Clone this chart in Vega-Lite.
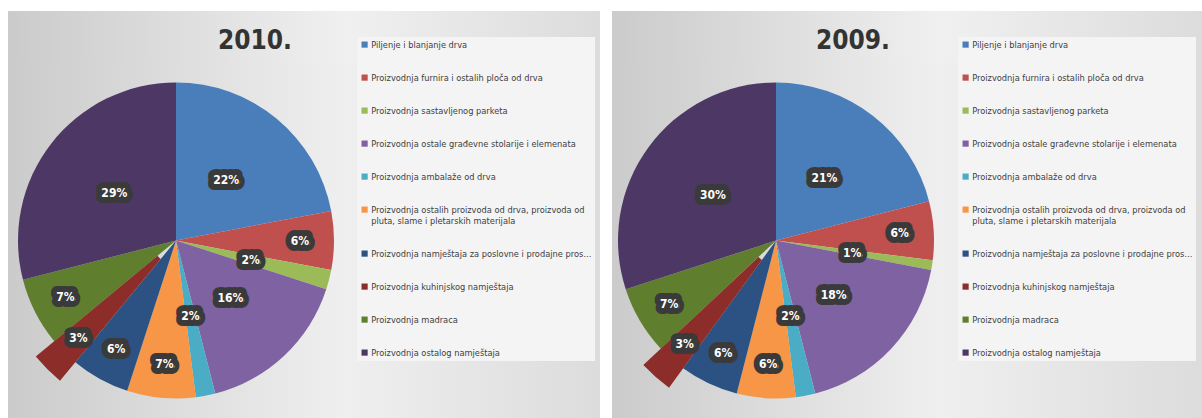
{
  "$schema": "https://vega.github.io/schema/vega-lite/v6.json",
  "background": "#ffffff",
  "padding": {"left": 8, "top": 11, "right": 0, "bottom": 0},
  "spacing": 12,
  "resolve": {"scale": {"color": "independent", "theta": "independent", "radius": "independent"}, "legend": {"color": "independent"}},
  "config": {"view": {"stroke": null}},
  "datasets": {
    "d2010": [
      {"cat": "Piljenje i blanjanje drva", "share": 0.22, "rank": 1},
      {"cat": "Proizvodnja furnira i ostalih ploča od drva", "share": 0.06, "rank": 2},
      {"cat": "Proizvodnja sastavljenog parketa", "share": 0.02, "rank": 3},
      {"cat": "Proizvodnja ostale građevne stolarije i elemenata", "share": 0.16, "rank": 4},
      {"cat": "Proizvodnja ambalaže od drva", "share": 0.02, "rank": 5},
      {"cat": "Proizvodnja ostalih proizvoda od drva, proizvoda od pluta, slame i pletarskih materijala", "share": 0.07, "rank": 6},
      {"cat": "Proizvodnja namještaja za poslovne i prodajne prostore", "share": 0.06, "rank": 7},
      {"cat": "Proizvodnja kuhinjskog namještaja", "share": 0.03, "rank": 8},
      {"cat": "Proizvodnja madraca", "share": 0.07, "rank": 9},
      {"cat": "Proizvodnja ostalog namještaja", "share": 0.29, "rank": 10}
    ],
    "d2009": [
      {"cat": "Piljenje i blanjanje drva", "share": 0.21, "rank": 1},
      {"cat": "Proizvodnja furnira i ostalih ploča od drva", "share": 0.06, "rank": 2},
      {"cat": "Proizvodnja sastavljenog parketa", "share": 0.01, "rank": 3},
      {"cat": "Proizvodnja ostale građevne stolarije i elemenata", "share": 0.18, "rank": 4},
      {"cat": "Proizvodnja ambalaže od drva", "share": 0.02, "rank": 5},
      {"cat": "Proizvodnja ostalih proizvoda od drva, proizvoda od pluta, slame i pletarskih materijala", "share": 0.06, "rank": 6},
      {"cat": "Proizvodnja namještaja za poslovne i prodajne prostore", "share": 0.06, "rank": 7},
      {"cat": "Proizvodnja kuhinjskog namještaja", "share": 0.03, "rank": 8},
      {"cat": "Proizvodnja madraca", "share": 0.07, "rank": 9},
      {"cat": "Proizvodnja ostalog namještaja", "share": 0.30, "rank": 10}
    ],
    "t2010": [{"year": "2010."}],
    "t2009": [{"year": "2009."}]
  },
  "hconcat": [
    {
      "spacing": 0,
      "bounds": "flush",
      "resolve": {"scale": {"color": "independent", "theta": "independent", "radius": "independent"}, "legend": {"color": "independent"}},
      "vconcat": [
        {
          "width": 592,
          "height": 52,
          "view": {"fill": {"gradient": "linear", "x1": 0, "y1": 0, "x2": 1, "y2": 0, "stops": [{"offset": 0, "color": "#cbcbcb"}, {"offset": 0.57, "color": "#f0f0f0"}, {"offset": 1, "color": "#dcdcdc"}]}},
          "data": {"name": "t2010"},
          "mark": {"type": "text", "font": "Liberation Sans Narrow, DejaVu Sans Condensed, sans-serif", "fontSize": 26, "fontWeight": "bold", "color": "#333333", "dx": -49, "dy": 4},
          "encoding": {"text": {"field": "year", "type": "nominal"}}
        },
        {
          "spacing": 0,
          "bounds": "flush",
          "resolve": {"scale": {"color": "independent", "theta": "independent", "radius": "independent"}, "legend": {"color": "independent"}},
          "hconcat": [
            {
              "width": 336,
              "height": 355,
              "view": {"fill": {"gradient": "linear", "x1": 0, "y1": 0, "x2": 1, "y2": 0, "stops": [{"offset": 0, "color": "#cbcbcb"}, {"offset": 1, "color": "#efefef"}]}},
              "data": {"name": "d2010"},
              "encoding": {
                "theta": {"field": "share", "type": "quantitative", "stack": true},
                "order": {"field": "rank", "type": "quantitative"}
              },
              "layer": [
                {
                  "mark": {"type": "arc", "outerRadius": 158},
                  "encoding": {
                    "color": {"field": "cat", "type": "nominal", "legend": null, "scale": {"domain": ["Piljenje i blanjanje drva", "Proizvodnja furnira i ostalih ploča od drva", "Proizvodnja sastavljenog parketa", "Proizvodnja ostale građevne stolarije i elemenata", "Proizvodnja ambalaže od drva", "Proizvodnja ostalih proizvoda od drva, proizvoda od pluta, slame i pletarskih materijala", "Proizvodnja namještaja za poslovne i prodajne prostore", "Proizvodnja kuhinjskog namještaja", "Proizvodnja madraca", "Proizvodnja ostalog namještaja"], "range": ["#4a7ebb", "#c0504d", "#9bbb59", "#7f62a1", "#4bacc6", "#f79646", "#2c5283", "#8c2d2a", "#5f7f2e", "#4d3865"]}},
                    "opacity": {"condition": {"test": "datum.cat === 'Proizvodnja kuhinjskog namještaja'", "value": 0}, "value": 1}
                  }
                },
                {
                  "mark": {"type": "arc", "outerRadius": 182, "innerRadius": 24, "clip": true},
                  "encoding": {
                    "color": {"field": "cat", "type": "nominal", "legend": null, "scale": {"domain": ["Piljenje i blanjanje drva", "Proizvodnja furnira i ostalih ploča od drva", "Proizvodnja sastavljenog parketa", "Proizvodnja ostale građevne stolarije i elemenata", "Proizvodnja ambalaže od drva", "Proizvodnja ostalih proizvoda od drva, proizvoda od pluta, slame i pletarskih materijala", "Proizvodnja namještaja za poslovne i prodajne prostore", "Proizvodnja kuhinjskog namještaja", "Proizvodnja madraca", "Proizvodnja ostalog namještaja"], "range": ["#4a7ebb", "#c0504d", "#9bbb59", "#7f62a1", "#4bacc6", "#f79646", "#2c5283", "#8c2d2a", "#5f7f2e", "#4d3865"]}},
                    "opacity": {"condition": {"test": "datum.cat === 'Proizvodnja kuhinjskog namještaja'", "value": 1}, "value": 0}
                  }
                },
                {
                  "mark": {"type": "text", "font": "Liberation Sans Narrow, DejaVu Sans Condensed, sans-serif", "fontSize": 12, "fontWeight": "bold", "fill": "#3a3a3a", "stroke": "#3a3a3a", "strokeWidth": 12, "strokeJoin": "round"},
                  "encoding": {
                    "detail": {"field": "cat", "type": "nominal"},
                    "radius": {"field": "share", "type": "quantitative", "scale": {"type": "linear", "domain": [0.01, 0.025, 0.03, 0.035, 0.095, 0.1, 0.3], "range": [77, 77, 138, 124, 124, 80, 78], "zero": false, "nice": false, "clamp": true}},
                    "text": {"field": "share", "type": "quantitative", "format": ".0%"}
                  }
                },
                {
                  "mark": {"type": "text", "font": "Liberation Sans Narrow, DejaVu Sans Condensed, sans-serif", "fontSize": 12, "fontWeight": "bold", "fill": "#ffffff"},
                  "encoding": {
                    "detail": {"field": "cat", "type": "nominal"},
                    "radius": {"field": "share", "type": "quantitative", "scale": {"type": "linear", "domain": [0.01, 0.025, 0.03, 0.035, 0.095, 0.1, 0.3], "range": [77, 77, 138, 124, 124, 80, 78], "zero": false, "nice": false, "clamp": true}},
                    "text": {"field": "share", "type": "quantitative", "format": ".0%"}
                  }
                }
              ]
            },
            {
              "width": 256,
              "height": 355,
              "view": {"fill": {"gradient": "linear", "x1": 0, "y1": 0, "x2": 1, "y2": 0, "stops": [{"offset": 0, "color": "#efefef"}, {"offset": 1, "color": "#dcdcdc"}]}},
              "data": {"name": "d2010"},
              "mark": {"type": "square", "opacity": 0},
              "encoding": {
                "color": {
                  "field": "cat", "type": "nominal",
                  "scale": {"domain": ["Piljenje i blanjanje drva", "Proizvodnja furnira i ostalih ploča od drva", "Proizvodnja sastavljenog parketa", "Proizvodnja ostale građevne stolarije i elemenata", "Proizvodnja ambalaže od drva", "Proizvodnja ostalih proizvoda od drva, proizvoda od pluta, slame i pletarskih materijala", "Proizvodnja namještaja za poslovne i prodajne prostore", "Proizvodnja kuhinjskog namještaja", "Proizvodnja madraca", "Proizvodnja ostalog namještaja"], "range": ["#4a7ebb", "#c0504d", "#9bbb59", "#7f62a1", "#4bacc6", "#f79646", "#2c5283", "#8c2d2a", "#5f7f2e", "#4d3865"]},
                  "legend": {
                    "title": null, "orient": "none", "legendX": 13, "legendY": -26, "offset": 0, "direction": "vertical", "columns": 1,
                    "padding": 3, "fillColor": "#f4f4f4",
                    "symbolType": "square", "symbolSize": 38, "symbolOpacity": 1, "symbolStrokeWidth": 0,
                    "labelFont": "Liberation Sans Narrow, DejaVu Sans Condensed, sans-serif", "labelFontSize": 9.2, "labelColor": "#404040",
                    "labelLimit": 222, "labelOffset": 2, "rowPadding": 23,
                    "labelExpr": "datum.label === 'Proizvodnja ostalih proizvoda od drva, proizvoda od pluta, slame i pletarskih materijala' ? ['Proizvodnja ostalih proizvoda od drva, proizvoda od', 'pluta, slame i pletarskih materijala'] : datum.label"
                  }
                }
              }
            }
          ]
        }
      ]
    },
    {
      "spacing": 0,
      "bounds": "flush",
      "resolve": {"scale": {"color": "independent", "theta": "independent", "radius": "independent"}, "legend": {"color": "independent"}},
      "vconcat": [
        {
          "width": 590,
          "height": 52,
          "view": {"fill": {"gradient": "linear", "x1": 0, "y1": 0, "x2": 1, "y2": 0, "stops": [{"offset": 0, "color": "#cbcbcb"}, {"offset": 0.56, "color": "#f0f0f0"}, {"offset": 1, "color": "#dcdcdc"}]}},
          "data": {"name": "t2009"},
          "mark": {"type": "text", "font": "Liberation Sans Narrow, DejaVu Sans Condensed, sans-serif", "fontSize": 26, "fontWeight": "bold", "color": "#333333", "dx": -54, "dy": 4},
          "encoding": {"text": {"field": "year", "type": "nominal"}}
        },
        {
          "spacing": 0,
          "bounds": "flush",
          "resolve": {"scale": {"color": "independent", "theta": "independent", "radius": "independent"}, "legend": {"color": "independent"}},
          "hconcat": [
            {
              "width": 328,
              "height": 355,
              "view": {"fill": {"gradient": "linear", "x1": 0, "y1": 0, "x2": 1, "y2": 0, "stops": [{"offset": 0, "color": "#cbcbcb"}, {"offset": 1, "color": "#efefef"}]}},
              "data": {"name": "d2009"},
              "encoding": {
                "theta": {"field": "share", "type": "quantitative", "stack": true},
                "order": {"field": "rank", "type": "quantitative"}
              },
              "layer": [
                {
                  "mark": {"type": "arc", "outerRadius": 158},
                  "encoding": {
                    "color": {"field": "cat", "type": "nominal", "legend": null, "scale": {"domain": ["Piljenje i blanjanje drva", "Proizvodnja furnira i ostalih ploča od drva", "Proizvodnja sastavljenog parketa", "Proizvodnja ostale građevne stolarije i elemenata", "Proizvodnja ambalaže od drva", "Proizvodnja ostalih proizvoda od drva, proizvoda od pluta, slame i pletarskih materijala", "Proizvodnja namještaja za poslovne i prodajne prostore", "Proizvodnja kuhinjskog namještaja", "Proizvodnja madraca", "Proizvodnja ostalog namještaja"], "range": ["#4a7ebb", "#c0504d", "#9bbb59", "#7f62a1", "#4bacc6", "#f79646", "#2c5283", "#8c2d2a", "#5f7f2e", "#4d3865"]}},
                    "opacity": {"condition": {"test": "datum.cat === 'Proizvodnja kuhinjskog namještaja'", "value": 0}, "value": 1}
                  }
                },
                {
                  "mark": {"type": "arc", "outerRadius": 182, "innerRadius": 24, "clip": true},
                  "encoding": {
                    "color": {"field": "cat", "type": "nominal", "legend": null, "scale": {"domain": ["Piljenje i blanjanje drva", "Proizvodnja furnira i ostalih ploča od drva", "Proizvodnja sastavljenog parketa", "Proizvodnja ostale građevne stolarije i elemenata", "Proizvodnja ambalaže od drva", "Proizvodnja ostalih proizvoda od drva, proizvoda od pluta, slame i pletarskih materijala", "Proizvodnja namještaja za poslovne i prodajne prostore", "Proizvodnja kuhinjskog namještaja", "Proizvodnja madraca", "Proizvodnja ostalog namještaja"], "range": ["#4a7ebb", "#c0504d", "#9bbb59", "#7f62a1", "#4bacc6", "#f79646", "#2c5283", "#8c2d2a", "#5f7f2e", "#4d3865"]}},
                    "opacity": {"condition": {"test": "datum.cat === 'Proizvodnja kuhinjskog namještaja'", "value": 1}, "value": 0}
                  }
                },
                {
                  "mark": {"type": "text", "font": "Liberation Sans Narrow, DejaVu Sans Condensed, sans-serif", "fontSize": 12, "fontWeight": "bold", "fill": "#3a3a3a", "stroke": "#3a3a3a", "strokeWidth": 12, "strokeJoin": "round"},
                  "encoding": {
                    "detail": {"field": "cat", "type": "nominal"},
                    "radius": {"field": "share", "type": "quantitative", "scale": {"type": "linear", "domain": [0.01, 0.025, 0.03, 0.035, 0.095, 0.1, 0.3], "range": [77, 77, 138, 124, 124, 80, 78], "zero": false, "nice": false, "clamp": true}},
                    "text": {"field": "share", "type": "quantitative", "format": ".0%"}
                  }
                },
                {
                  "mark": {"type": "text", "font": "Liberation Sans Narrow, DejaVu Sans Condensed, sans-serif", "fontSize": 12, "fontWeight": "bold", "fill": "#ffffff"},
                  "encoding": {
                    "detail": {"field": "cat", "type": "nominal"},
                    "radius": {"field": "share", "type": "quantitative", "scale": {"type": "linear", "domain": [0.01, 0.025, 0.03, 0.035, 0.095, 0.1, 0.3], "range": [77, 77, 138, 124, 124, 80, 78], "zero": false, "nice": false, "clamp": true}},
                    "text": {"field": "share", "type": "quantitative", "format": ".0%"}
                  }
                }
              ]
            },
            {
              "width": 262,
              "height": 355,
              "view": {"fill": {"gradient": "linear", "x1": 0, "y1": 0, "x2": 1, "y2": 0, "stops": [{"offset": 0, "color": "#efefef"}, {"offset": 1, "color": "#dcdcdc"}]}},
              "data": {"name": "d2009"},
              "mark": {"type": "square", "opacity": 0},
              "encoding": {
                "color": {
                  "field": "cat", "type": "nominal",
                  "scale": {"domain": ["Piljenje i blanjanje drva", "Proizvodnja furnira i ostalih ploča od drva", "Proizvodnja sastavljenog parketa", "Proizvodnja ostale građevne stolarije i elemenata", "Proizvodnja ambalaže od drva", "Proizvodnja ostalih proizvoda od drva, proizvoda od pluta, slame i pletarskih materijala", "Proizvodnja namještaja za poslovne i prodajne prostore", "Proizvodnja kuhinjskog namještaja", "Proizvodnja madraca", "Proizvodnja ostalog namještaja"], "range": ["#4a7ebb", "#c0504d", "#9bbb59", "#7f62a1", "#4bacc6", "#f79646", "#2c5283", "#8c2d2a", "#5f7f2e", "#4d3865"]},
                  "legend": {
                    "title": null, "orient": "none", "legendX": 18, "legendY": -26, "offset": 0, "direction": "vertical", "columns": 1,
                    "padding": 3, "fillColor": "#f4f4f4",
                    "symbolType": "square", "symbolSize": 38, "symbolOpacity": 1, "symbolStrokeWidth": 0,
                    "labelFont": "Liberation Sans Narrow, DejaVu Sans Condensed, sans-serif", "labelFontSize": 9.2, "labelColor": "#404040",
                    "labelLimit": 222, "labelOffset": 2, "rowPadding": 23,
                    "labelExpr": "datum.label === 'Proizvodnja ostalih proizvoda od drva, proizvoda od pluta, slame i pletarskih materijala' ? ['Proizvodnja ostalih proizvoda od drva, proizvoda od', 'pluta, slame i pletarskih materijala'] : datum.label"
                  }
                }
              }
            }
          ]
        }
      ]
    }
  ]
}
